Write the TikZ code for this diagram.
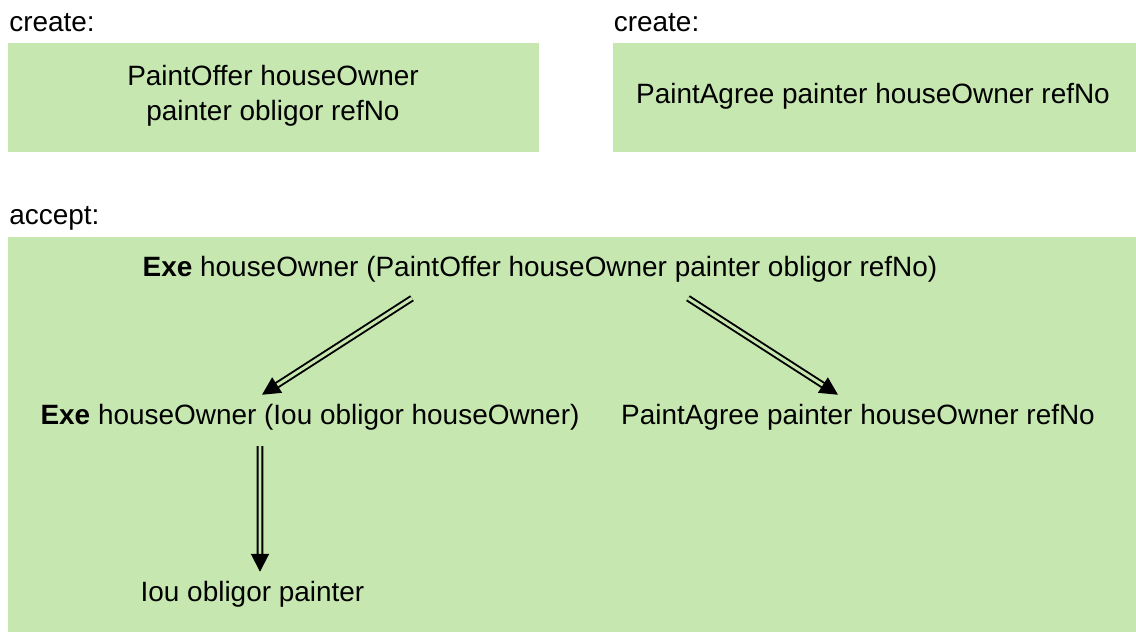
\documentclass[tikz,border=0pt]{standalone}
\usepackage{fontspec}
\setmainfont{Liberation Sans}
\usepackage{xcolor}
\usetikzlibrary{arrows.meta, positioning, calc}
\definecolor{stepgreen}{RGB}{198,231,176}
\tikzset{
  greenbox/.style={
    fill=stepgreen, draw=none, inner sep=0pt
  },
  steptext/.style={
    align=center, font=\fontsize{15.9}{19.9}\selectfont
  },
  headlabel/.style={
    anchor=west, inner sep=0pt, font=\fontsize{15.9}{19.9}\selectfont
  },
  derivearrow/.style={
    double=stepgreen, double distance=1.7pt, line width=1.1pt,
    -{Triangle[length=0.36cm, width=0.36cm]}
  },
}
\begin{document}
\begin{tikzpicture}
  \useasboundingbox (0,0) rectangle (22.72,-12.64);

  % Create boxes
  \node[greenbox, minimum width=10.62cm, minimum height=2.18cm]
    (offerbox) at (5.47,-1.95) {};
  \node[greenbox, minimum width=10.46cm, minimum height=2.18cm]
    (agreebox) at (17.49,-1.95) {};
  \node[headlabel] (createA) at (0.18,-0.46) {create:};
  \node[headlabel] (createB) at (12.27,-0.46) {create:};
  \node[steptext] (offer) at (5.46,-1.92) {PaintOffer houseOwner\\painter obligor refNo};
  \node[steptext] (agree) at (17.46,-1.92) {PaintAgree painter houseOwner refNo};

  % Accept box
  \node[greenbox, minimum width=22.56cm, minimum height=7.90cm]
    (acceptbox) at (11.44,-8.69) {};
  \node[headlabel] (accept) at (0.18,-4.36) {accept:};

  \node[steptext] (exeoffer) at (10.8,-5.38)
    {\textbf{Exe} houseOwner (PaintOffer houseOwner painter obligor refNo)};
  \node[steptext] (exeiou) at (6.2,-8.34)
    {\textbf{Exe} houseOwner (Iou obligor houseOwner)};
  \node[steptext] (agreeout) at (17.16,-8.34)
    {PaintAgree painter houseOwner refNo};
  \node[steptext] (iou) at (5.05,-11.88) {Iou obligor painter};

  % Derivations
  \draw[derivearrow] ($(exeoffer.south)+(-2.56,-0.2)$) -- ($(exeiou.north)+(-0.96,0.06)$);
  \draw[derivearrow] ($(exeoffer.south)+(2.96,-0.2)$) -- ($(agreeout.north)+(-0.4,0.06)$);
  \draw[derivearrow] ($(exeiou.south)+(-1.0,-0.2)$) -- ($(iou.north)+(0.15,0.06)$);
\end{tikzpicture}
\end{document}
